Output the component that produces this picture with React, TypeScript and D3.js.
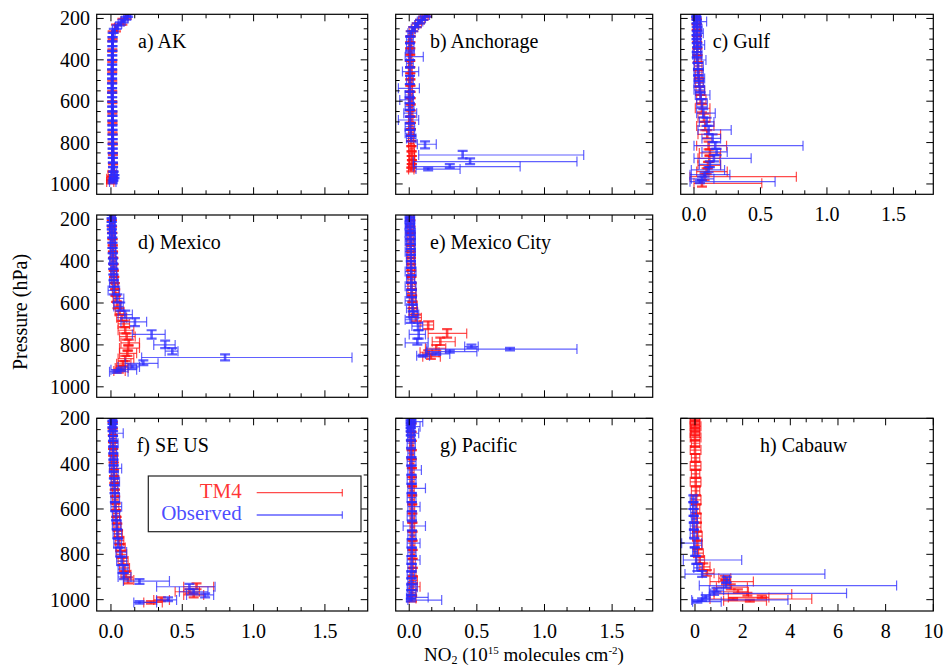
import React from 'react'
import * as d3 from 'd3'

// each point: [pressure hPa, NO2 value, error low, error high]
type Pt = [number, number, number, number]

const akObs: Pt[] = [
  [186, 0.12, 0.1, 0.14], [199, 0.105, 0.09, 0.12], [212, 0.087, 0.07, 0.1], [227, 0.063, 0.05, 0.075],
  [241, 0.04, 0.03, 0.05], [259, 0.02, 0.01, 0.03], [280, 0.012, 0.005, 0.02], [300, 0.01, 0.005, 0.016],
  [322, 0.01, 0.005, 0.016], [345, 0.01, 0.005, 0.016], [368, 0.009, 0.004, 0.015], [390, 0.009, 0.004, 0.015],
  [412, 0.009, 0.004, 0.015], [435, 0.008, 0.003, 0.014], [458, 0.008, 0.003, 0.014], [480, 0.008, 0.003, 0.014],
  [502, 0.008, 0.003, 0.014], [525, 0.008, 0.003, 0.014], [548, 0.008, 0.003, 0.014], [570, 0.008, 0.003, 0.014],
  [592, 0.009, 0.004, 0.015], [615, 0.009, 0.004, 0.015], [638, 0.009, 0.004, 0.015], [660, 0.01, 0.005, 0.016],
  [682, 0.01, 0.005, 0.016], [705, 0.01, 0.005, 0.016], [728, 0.01, 0.005, 0.016], [750, 0.011, 0.005, 0.017],
  [772, 0.011, 0.005, 0.017], [795, 0.012, 0.006, 0.018], [818, 0.012, 0.006, 0.018], [840, 0.012, 0.006, 0.018],
  [862, 0.013, 0.006, 0.02], [885, 0.013, 0.006, 0.02], [908, 0.014, 0.006, 0.022], [930, 0.015, 0.005, 0.025],
  [950, 0.02, 0.0, 0.04], [965, 0.025, 0.0, 0.045], [978, 0.018, -0.01, 0.04], [990, 0.012, -0.01, 0.035],
]
const akTm4: Pt[] = [
  [190, 0.11, 0.1, 0.12], [215, 0.08, 0.07, 0.09], [245, 0.035, 0.025, 0.045], [280, 0.012, 0.005, 0.02],
  [330, 0.01, 0.005, 0.015], [380, 0.009, 0.004, 0.014], [430, 0.009, 0.004, 0.014], [480, 0.009, 0.004, 0.014],
  [530, 0.009, 0.004, 0.014], [580, 0.009, 0.004, 0.014], [630, 0.01, 0.005, 0.015], [680, 0.01, 0.005, 0.015],
  [730, 0.011, 0.005, 0.016], [780, 0.012, 0.006, 0.018], [830, 0.013, 0.006, 0.02], [880, 0.014, 0.006, 0.022],
  [925, 0.015, 0.005, 0.025], [955, 0.01, -0.02, 0.03], [975, 0.005, -0.03, 0.025], [990, 0.0, -0.03, 0.02],
]

const anchObs: Pt[] = [
  [183, 0.13, 0.11, 0.15], [199, 0.104, 0.085, 0.12], [215, 0.08, 0.06, 0.1], [232, 0.055, 0.04, 0.07],
  [252, 0.03, 0.015, 0.045], [272, 0.011, -0.01, 0.03], [304, 0.006, -0.02, 0.03], [336, 0.006, -0.02, 0.035],
  [385, 0.006, -0.03, 0.104], [417, 0.006, -0.02, 0.03], [457, 0.006, -0.05, 0.07], [497, 0.006, -0.02, 0.03],
  [538, 0.004, -0.08, 0.075], [570, 0.004, -0.03, 0.03], [594, 0.004, -0.07, 0.03], [626, 0.004, -0.03, 0.035],
  [658, 0.005, -0.04, 0.055], [691, 0.005, -0.08, 0.07], [723, 0.006, -0.03, 0.04], [755, 0.01, -0.03, 0.04],
  [780, 0.015, -0.02, 0.05], [808, 0.117, 0.06, 0.2], [860, 0.395, 0.07, 1.29], [892, 0.45, 0.03, 1.24],
  [916, 0.3, 0.03, 0.82], [928, 0.14, 0.05, 0.376],
]
const anchTm4: Pt[] = [
  [183, 0.13, 0.12, 0.14], [199, 0.105, 0.095, 0.115], [215, 0.08, 0.07, 0.09], [232, 0.056, 0.046, 0.066],
  [252, 0.03, 0.02, 0.04], [272, 0.012, 0.0, 0.025], [300, 0.008, -0.005, 0.02], [330, 0.008, -0.005, 0.02],
  [360, 0.007, -0.006, 0.02], [390, 0.007, -0.006, 0.02], [420, 0.007, -0.006, 0.02], [450, 0.008, -0.006, 0.022],
  [480, 0.008, -0.006, 0.022], [510, 0.008, -0.006, 0.022], [540, 0.009, -0.006, 0.024], [570, 0.009, -0.006, 0.024],
  [600, 0.01, -0.006, 0.026], [630, 0.01, -0.006, 0.026], [660, 0.011, -0.005, 0.027], [690, 0.011, -0.005, 0.027],
  [720, 0.012, -0.005, 0.028], [750, 0.013, -0.005, 0.03], [780, 0.014, -0.005, 0.032], [805, 0.015, -0.005, 0.035],
  [830, 0.017, -0.003, 0.037], [855, 0.018, -0.002, 0.038], [875, 0.02, 0.0, 0.04], [895, 0.02, 0.0, 0.04],
  [912, 0.018, -0.002, 0.038], [930, 0.015, -0.005, 0.035],
]

const gulfObs: Pt[] = [
  [188, 0.015, -0.01, 0.04], [200, 0.02, 0.0, 0.05], [215, 0.02, 0.0, 0.095], [232, 0.02, 0.0, 0.05],
  [250, 0.025, 0.0, 0.06], [272, 0.02, -0.005, 0.07], [290, 0.02, 0.0, 0.05], [310, 0.02, 0.0, 0.05],
  [328, 0.025, 0.0, 0.08], [350, 0.025, 0.0, 0.05], [375, 0.02, -0.01, 0.06], [401, 0.025, 0.0, 0.09],
  [430, 0.03, 0.0, 0.07], [460, 0.03, 0.0, 0.07], [490, 0.035, 0.005, 0.08], [513, 0.04, 0.0, 0.07],
  [545, 0.045, 0.0, 0.08], [570, 0.05, 0.01, 0.12], [610, 0.06, 0.02, 0.1], [658, 0.07, 0.02, 0.16],
  [700, 0.095, 0.04, 0.15], [739, 0.11, 0.03, 0.28], [780, 0.14, 0.06, 0.2], [815, 0.16, 0.0, 0.82],
  [845, 0.17, 0.06, 0.25], [876, 0.15, 0.0, 0.43], [905, 0.12, 0.04, 0.2], [932, 0.11, -0.02, 0.23],
  [955, 0.08, -0.03, 0.27], [975, 0.06, -0.02, 0.15], [989, 0.045, -0.03, 0.61],
]
const gulfTm4: Pt[] = [
  [190, 0.02, 0.0, 0.04], [215, 0.02, 0.0, 0.04], [240, 0.02, 0.0, 0.045], [270, 0.022, 0.0, 0.045],
  [300, 0.022, 0.0, 0.05], [330, 0.025, 0.0, 0.05], [360, 0.025, 0.0, 0.05], [395, 0.027, 0.005, 0.055],
  [430, 0.03, 0.005, 0.06], [470, 0.035, 0.01, 0.06], [510, 0.04, 0.01, 0.07], [550, 0.045, 0.015, 0.08],
  [590, 0.05, 0.02, 0.09], [634, 0.06, 0.01, 0.12], [680, 0.075, 0.03, 0.12], [720, 0.085, 0.02, 0.15],
  [760, 0.1, 0.03, 0.2], [815, 0.11, 0.02, 0.245], [850, 0.12, 0.04, 0.2], [876, 0.115, 0.03, 0.195],
  [910, 0.105, 0.03, 0.2], [940, 0.095, 0.02, 0.25], [965, 0.08, -0.03, 0.77], [997, 0.06, 0.0, 0.51],
]

const mexObs: Pt[] = [
  [188, 0.005, -0.01, 0.03], [205, 0.005, -0.01, 0.03], [222, 0.005, -0.01, 0.025], [240, 0.005, -0.01, 0.025],
  [258, 0.007, -0.01, 0.03], [276, 0.008, -0.01, 0.03], [300, 0.01, -0.005, 0.03], [325, 0.01, -0.005, 0.03],
  [350, 0.012, -0.005, 0.035], [375, 0.013, -0.005, 0.035], [400, 0.015, -0.01, 0.04], [425, 0.016, 0.0, 0.035],
  [450, 0.017, 0.0, 0.04], [478, 0.018, 0.0, 0.04], [505, 0.02, -0.01, 0.05], [540, 0.02, -0.02, 0.06],
  [578, 0.045, 0.02, 0.09], [617, 0.065, 0.02, 0.086], [655, 0.1, 0.05, 0.15], [690, 0.168, 0.07, 0.25],
  [750, 0.285, 0.15, 0.38], [800, 0.38, 0.3, 0.45], [830, 0.43, 0.38, 0.47], [860, 0.8, 0.215, 1.69],
  [888, 0.227, 0.1, 0.33], [905, 0.15, 0.05, 0.2], [918, 0.07, 0.0, 0.18], [928, 0.04, -0.01, 0.12],
]
const mexTm4: Pt[] = [
  [190, 0.006, -0.005, 0.02], [220, 0.006, -0.005, 0.02], [250, 0.008, -0.005, 0.02], [280, 0.01, 0.0, 0.025],
  [310, 0.012, 0.0, 0.025], [340, 0.013, 0.0, 0.03], [370, 0.015, 0.0, 0.03], [400, 0.017, 0.0, 0.035],
  [430, 0.019, 0.0, 0.04], [460, 0.021, 0.0, 0.04], [490, 0.024, 0.005, 0.045], [520, 0.028, 0.01, 0.05],
  [550, 0.03, 0.01, 0.055], [580, 0.035, 0.015, 0.06], [610, 0.045, 0.02, 0.07], [640, 0.06, 0.03, 0.09],
  [670, 0.075, 0.04, 0.11], [700, 0.09, 0.05, 0.13], [730, 0.1, 0.05, 0.16], [760, 0.11, 0.06, 0.17],
  [790, 0.125, 0.07, 0.2], [815, 0.12, 0.06, 0.2], [840, 0.115, 0.06, 0.18], [865, 0.1, 0.05, 0.16],
  [890, 0.085, 0.04, 0.14], [910, 0.07, 0.03, 0.12], [925, 0.055, 0.02, 0.1],
]

const mexCityObs: Pt[] = [
  [185, 0.005, -0.02, 0.035], [200, 0.005, -0.03, 0.04], [215, 0.006, -0.02, 0.035], [230, 0.006, -0.03, 0.04],
  [248, 0.007, -0.02, 0.035], [265, 0.008, -0.03, 0.045], [285, 0.008, -0.02, 0.04], [305, 0.01, -0.03, 0.045],
  [330, 0.01, -0.02, 0.04], [355, 0.012, -0.03, 0.045], [385, 0.012, -0.02, 0.04], [415, 0.013, -0.02, 0.045],
  [450, 0.014, -0.03, 0.05], [485, 0.015, -0.02, 0.04], [520, 0.015, -0.03, 0.05], [555, 0.017, -0.02, 0.05],
  [590, 0.02, -0.03, 0.05], [625, 0.025, -0.02, 0.06], [655, 0.03, 0.0, 0.07], [680, 0.01, -0.03, 0.06],
  [710, 0.065, 0.02, 0.1], [750, 0.07, 0.0, 0.12], [790, 0.06, -0.03, 0.14], [808, 0.46, 0.41, 0.51],
  [820, 0.745, 0.13, 1.24], [832, 0.3, 0.13, 0.5], [843, 0.2, 0.12, 0.3], [852, 0.1, 0.055, 0.15],
]
const mexCityTm4: Pt[] = [
  [190, 0.008, -0.01, 0.03], [220, 0.008, -0.01, 0.03], [250, 0.009, -0.01, 0.03], [280, 0.01, -0.01, 0.03],
  [310, 0.01, -0.01, 0.03], [340, 0.011, -0.01, 0.035], [370, 0.012, -0.01, 0.035], [400, 0.013, -0.01, 0.035],
  [430, 0.014, -0.01, 0.04], [460, 0.015, -0.01, 0.04], [490, 0.016, -0.01, 0.04], [520, 0.018, -0.01, 0.045],
  [550, 0.02, -0.01, 0.05], [580, 0.022, 0.0, 0.05], [610, 0.025, 0.0, 0.055], [640, 0.03, 0.0, 0.06],
  [670, 0.05, 0.02, 0.09], [705, 0.14, 0.08, 0.18], [745, 0.28, 0.14, 0.425], [785, 0.23, 0.17, 0.34],
  [816, 0.2, 0.12, 0.27], [835, 0.14, 0.08, 0.22], [856, 0.16, 0.1, 0.23],
]

const seObs: Pt[] = [
  [205, 0.01, -0.01, 0.04], [218, 0.012, -0.005, 0.03], [232, 0.012, -0.01, 0.035], [248, 0.01, -0.005, 0.03],
  [266, 0.015, -0.01, 0.086], [290, 0.014, -0.01, 0.04], [310, 0.015, -0.005, 0.05], [340, 0.016, -0.01, 0.04],
  [370, 0.017, -0.005, 0.045], [395, 0.018, -0.005, 0.045], [421, 0.02, -0.01, 0.075], [450, 0.02, 0.0, 0.05],
  [480, 0.022, 0.0, 0.06], [510, 0.025, 0.0, 0.05], [550, 0.027, 0.0, 0.06], [590, 0.03, 0.0, 0.075],
  [630, 0.035, 0.01, 0.06], [670, 0.04, 0.01, 0.07], [710, 0.045, 0.015, 0.075], [751, 0.05, 0.02, 0.075],
  [790, 0.065, 0.035, 0.11], [830, 0.075, 0.04, 0.11], [865, 0.085, 0.05, 0.12], [900, 0.09, 0.05, 0.14],
  [918, 0.2, 0.087, 0.41], [943, 0.55, 0.32, 0.73], [965, 0.58, 0.48, 0.68], [979, 0.66, 0.53, 0.72],
  [1001, 0.4, 0.32, 0.46], [1012, 0.2, 0.16, 0.32],
]
const seTm4: Pt[] = [
  [205, 0.012, 0.0, 0.025], [230, 0.012, 0.0, 0.025], [260, 0.013, 0.0, 0.03], [290, 0.014, 0.0, 0.03],
  [320, 0.015, 0.0, 0.03], [350, 0.016, 0.0, 0.035], [380, 0.018, 0.005, 0.035], [410, 0.02, 0.005, 0.04],
  [440, 0.022, 0.005, 0.04], [470, 0.024, 0.005, 0.045], [500, 0.026, 0.01, 0.045], [530, 0.028, 0.01, 0.05],
  [560, 0.03, 0.01, 0.05], [590, 0.033, 0.015, 0.055], [620, 0.036, 0.015, 0.06], [650, 0.04, 0.02, 0.065],
  [680, 0.045, 0.02, 0.07], [710, 0.05, 0.025, 0.08], [740, 0.058, 0.03, 0.09], [770, 0.065, 0.035, 0.1],
  [800, 0.075, 0.04, 0.11], [830, 0.085, 0.05, 0.12], [860, 0.095, 0.06, 0.13], [890, 0.105, 0.07, 0.14],
  [913, 0.12, 0.09, 0.16], [943, 0.6, 0.51, 0.72], [965, 0.55, 0.45, 0.62], [979, 0.58, 0.51, 0.65],
  [1001, 0.35, 0.3, 0.41], [1012, 0.28, 0.23, 0.36],
]

const pacObs: Pt[] = [
  [205, 0.01, -0.01, 0.05], [215, 0.012, -0.01, 0.1], [226, 0.01, -0.01, 0.04], [237, 0.012, -0.01, 0.08],
  [250, 0.01, -0.015, 0.035], [266, 0.012, -0.01, 0.07], [285, 0.012, -0.01, 0.04], [310, 0.013, -0.015, 0.045],
  [354, 0.014, -0.01, 0.04], [390, 0.015, -0.015, 0.05], [428, 0.016, -0.01, 0.09], [470, 0.017, -0.015, 0.05],
  [509, 0.018, -0.01, 0.12], [550, 0.018, -0.015, 0.05], [590, 0.02, -0.01, 0.08], [630, 0.02, -0.015, 0.05],
  [675, 0.02, -0.045, 0.12], [715, 0.02, -0.01, 0.05], [751, 0.019, -0.015, 0.08], [790, 0.018, -0.01, 0.05],
  [825, 0.018, -0.015, 0.08], [860, 0.017, -0.01, 0.05], [891, 0.016, -0.015, 0.04], [920, 0.016, -0.01, 0.05],
  [945, 0.015, -0.015, 0.06], [970, 0.015, -0.01, 0.05], [990, 0.014, -0.02, 0.14], [1002, 0.012, -0.01, 0.24],
]
const pacTm4: Pt[] = [
  [205, 0.015, 0.0, 0.03], [240, 0.016, 0.0, 0.03], [280, 0.017, 0.0, 0.032], [320, 0.018, 0.002, 0.034],
  [360, 0.018, 0.002, 0.034], [400, 0.019, 0.003, 0.035], [440, 0.02, 0.004, 0.036], [480, 0.02, 0.004, 0.036],
  [520, 0.021, 0.005, 0.037], [560, 0.022, 0.005, 0.038], [600, 0.022, 0.005, 0.04], [640, 0.023, 0.006, 0.04],
  [680, 0.023, 0.006, 0.04], [720, 0.024, 0.006, 0.042], [760, 0.024, 0.006, 0.042], [800, 0.024, 0.006, 0.042],
  [840, 0.025, 0.006, 0.045], [880, 0.025, 0.005, 0.05], [915, 0.025, 0.0, 0.06], [943, 0.025, 0.0, 0.08],
  [970, 0.022, 0.0, 0.05], [995, 0.02, 0.0, 0.05],
]

const cabObs: Pt[] = [
  [555, -0.07, -0.2, 0.05], [585, -0.065, -0.2, 0.05], [615, -0.06, -0.18, 0.06], [645, -0.05, -0.15, 0.1],
  [675, -0.05, -0.2, 0.08], [707, -0.04, -0.2, 0.1], [751, -0.02, -0.56, 0.28], [788, 0.0, -0.1, 0.1],
  [825, 0.05, -0.49, 1.96], [860, 0.1, -0.05, 0.3], [887, 0.3, -0.42, 5.45], [912, 1.33, 1.2, 1.45],
  [938, 1.3, 0.18, 8.46], [958, 0.9, 0.6, 1.2], [972, 0.8, 0.63, 6.36], [987, 0.45, 0.3, 0.6],
  [1001, 0.3, -0.14, 3.9], [1009, 0.1, -0.1, 1.1],
]
const cabTm4: Pt[] = [
  [205, 0.0, -0.2, 0.2], [220, 0.0, -0.2, 0.2], [235, 0.0, -0.2, 0.25], [250, 0.0, -0.15, 0.2],
  [265, 0.0, -0.2, 0.2], [285, 0.0, -0.2, 0.25], [310, 0.0, -0.15, 0.2], [340, 0.0, -0.2, 0.25],
  [375, 0.02, -0.15, 0.2], [410, 0.02, -0.2, 0.25], [445, 0.03, -0.15, 0.2], [480, 0.03, -0.2, 0.25],
  [520, 0.04, -0.15, 0.2], [560, 0.05, -0.15, 0.25], [600, 0.06, -0.1, 0.2], [640, 0.07, -0.1, 0.25],
  [680, 0.08, -0.1, 0.25], [720, 0.1, -0.1, 0.3], [760, 0.1, -0.05, 0.3], [795, 0.12, -0.05, 0.35],
  [825, 0.2, 0.05, 0.4], [855, 0.35, 0.2, 0.63], [884, 0.5, 0.3, 0.8], [905, 1.26, 1.0, 1.5],
  [920, 1.3, 0.63, 2.45], [945, 1.5, 0.9, 2.2], [965, 1.8, 0.8, 2.24], [975, 2.2, 0.8, 4.06],
  [990, 2.8, 1.4, 3.1], [997, 1.6, 0.63, 4.9], [1005, 2.3, 1.2, 3.0],
]

const panelNames = ['a) AK', 'b) Anchorage', 'c) Gulf', 'd) Mexico', 'e) Mexico City', 'f) SE US', 'g) Pacific', 'h) Cabauw']
const pressureTicks = [200, 400, 600, 800, 1000]
const no2Ticks = [0, 0.5, 1.0, 1.5]
const cabauwTicks = [0, 2, 4, 6, 8, 10]
const legendNames = ['TM4', 'Observed']

const FONT = '"Liberation Serif", "DejaVu Serif", Times, serif'
const RED = '#ff1010'
const BLUE = '#2c2cff'

const cols = [
  { l: 96.7, r: 367.7 },
  { l: 395.7, r: 652.7 },
  { l: 680.7, r: 933.3 },
]
const rows = [
  { t: 14.3, b: 194.3, dom: [180, 1050] },
  { t: 215, b: 397.3, dom: [180, 1050] },
  { t: 418.3, b: 611, dom: [200, 1050] },
]

interface PanelDef {
  name: string
  col: number
  row: number
  obs: Pt[]
  tm4: Pt[]
  labelX: number
  showX: boolean
  showY: boolean
  wide?: boolean
}

const panels: PanelDef[] = [
  { name: panelNames[0], col: 0, row: 0, obs: akObs, tm4: akTm4, labelX: 138, showX: false, showY: true },
  { name: panelNames[1], col: 1, row: 0, obs: anchObs, tm4: anchTm4, labelX: 430, showX: false, showY: false },
  { name: panelNames[2], col: 2, row: 0, obs: gulfObs, tm4: gulfTm4, labelX: 712.7, showX: true, showY: false },
  { name: panelNames[3], col: 0, row: 1, obs: mexObs, tm4: mexTm4, labelX: 138, showX: false, showY: true },
  { name: panelNames[4], col: 1, row: 1, obs: mexCityObs, tm4: mexCityTm4, labelX: 430, showX: false, showY: false },
  { name: panelNames[5], col: 0, row: 2, obs: seObs, tm4: seTm4, labelX: 136.7, showX: true, showY: true },
  { name: panelNames[6], col: 1, row: 2, obs: pacObs, tm4: pacTm4, labelX: 440, showX: true, showY: false },
  { name: panelNames[7], col: 2, row: 2, obs: cabObs, tm4: cabTm4, labelX: 760, showX: true, showY: false, wide: true },
]

const textStyle = { fontFamily: FONT }

function Series({ data, x, y, color }: { data: Pt[]; x: d3.ScaleLinear<number, number>; y: d3.ScaleLinear<number, number>; color: string }) {
  const pts = [...data].sort((a, b) => a[0] - b[0])
  const els: React.ReactNode[] = []
  pts.forEach((d, i) => {
    const [p, v, lo, hi] = d
    const prev = i > 0 ? pts[i - 1][0] : null
    const next = i < pts.length - 1 ? pts[i + 1][0] : null
    const up = Math.min(prev != null ? (p - prev) / 2 : next != null ? (next - p) / 2 : 10, 20)
    const dn = Math.min(next != null ? (next - p) / 2 : up, 20)
    const xv = x(v)
    const y0 = y(p - up)
    const y1 = y(p + dn)
    const yp = y(p)
    els.push(
      <g key={i}>
        <line x1={xv} x2={xv} y1={y0} y2={y1} strokeWidth={2.6} />
        <line x1={xv - 5} x2={xv + 5} y1={y0} y2={y0} strokeWidth={2.2} />
        <line x1={xv - 5} x2={xv + 5} y1={y1} y2={y1} strokeWidth={2.2} />
        <line x1={x(lo)} x2={x(hi)} y1={yp} y2={yp} strokeWidth={1.2} />
        <line x1={x(lo)} x2={x(lo)} y1={yp - 5} y2={yp + 5} strokeWidth={1.2} />
        <line x1={x(hi)} x2={x(hi)} y1={yp - 5} y2={yp + 5} strokeWidth={1.2} />
      </g>
    )
  })
  return <g stroke={color} strokeOpacity={0.75} fill="none">{els}</g>
}

function Panel({ def, idx }: { def: PanelDef; idx: number }) {
  const c = cols[def.col]
  const r = rows[def.row]
  const x = d3.scaleLinear().domain(def.wide ? [-0.6, 10] : [-0.1, 1.8]).range([c.l, c.r])
  const y = d3.scaleLinear().domain(r.dom).range([r.t, r.b])
  const majors = def.wide ? cabauwTicks : no2Ticks
  const step = def.wide ? 2 / 3 : 0.5 / 3
  const xMinor = d3.range(0, 11).map(k => k * step).filter(v => !majors.some(m => Math.abs(m - v) < 1e-6) && x(v) < c.r - 1)
  const yMinor = d3.range(200, 1050, 50).filter(p => !pressureTicks.includes(p))
  const clipId = `clip${idx}`
  const fmt = (v: number) => (def.wide ? String(v) : v.toFixed(1))
  return (
    <g>
      <defs>
        <clipPath id={clipId}>
          <rect x={c.l} y={r.t} width={c.r - c.l} height={r.b - r.t} />
        </clipPath>
      </defs>
      <g clipPath={`url(#${clipId})`}>
        <Series data={def.tm4} x={x} y={y} color={RED} />
        <Series data={def.obs} x={x} y={y} color={BLUE} />
      </g>
      <rect x={c.l} y={r.t} width={c.r - c.l} height={r.b - r.t} fill="none" stroke="#000" strokeWidth={1.2} />
      <g stroke="#000" strokeWidth={1}>
        {majors.map(m => (
          <g key={'xm' + m}>
            <line x1={x(m)} x2={x(m)} y1={r.b} y2={r.b - 7} />
            <line x1={x(m)} x2={x(m)} y1={r.t} y2={r.t + 7} />
          </g>
        ))}
        {xMinor.map(m => (
          <g key={'xn' + m}>
            <line x1={x(m)} x2={x(m)} y1={r.b} y2={r.b - 4} />
            <line x1={x(m)} x2={x(m)} y1={r.t} y2={r.t + 4} />
          </g>
        ))}
        {pressureTicks.map(p => (
          <g key={'ym' + p}>
            <line x1={c.l} x2={c.l + 7} y1={y(p)} y2={y(p)} />
            <line x1={c.r} x2={c.r - 7} y1={y(p)} y2={y(p)} />
          </g>
        ))}
        {yMinor.map(p => (
          <g key={'yn' + p}>
            <line x1={c.l} x2={c.l + 4} y1={y(p)} y2={y(p)} />
            <line x1={c.r} x2={c.r - 4} y1={y(p)} y2={y(p)} />
          </g>
        ))}
      </g>
      {def.showX &&
        majors.map(m => (
          <text key={'xl' + m} x={x(m)} y={r.b + 27} textAnchor="middle" fontSize={20} style={textStyle} fill="#000">
            {fmt(m)}
          </text>
        ))}
      {def.showY &&
        pressureTicks.map(p => (
          <text key={'yl' + p} x={90} y={y(p)} dy="0.35em" textAnchor="end" fontSize={20} style={textStyle} fill="#000">
            {p}
          </text>
        ))}
      <text x={def.labelX} y={r.t + 34} fontSize={20} style={textStyle} fill="#000">
        {def.name}
      </text>
    </g>
  )
}

export default function App() {
  const legendColors = [RED, BLUE]
  return (
    <svg width={945} height={668} style={{ position: 'absolute', left: 0, top: 0, background: '#fff' }}>
      <rect width={945} height={668} fill="#fff" />
      {panels.map((p, i) => (
        <Panel key={p.name} def={p} idx={i} />
      ))}
      <g>
        <rect x={148.3} y={476} width={212.7} height={55.7} fill="#fff" stroke="#222" strokeWidth={1.2} />
        {legendNames.map((n, i) => (
          <g key={n}>
            <text x={241.7} y={498 + i * 22} textAnchor="end" fontSize={21} style={textStyle} fill={legendColors[i]} fillOpacity={0.85}>
              {n}
            </text>
            <line x1={256.7} x2={342.3} y1={492.7 + i * 22.3} y2={492.7 + i * 22.3} stroke={legendColors[i]} strokeOpacity={0.75} strokeWidth={1.3} />
            <line x1={342.3} x2={342.3} y1={489 + i * 22.3} y2={496.4 + i * 22.3} stroke={legendColors[i]} strokeOpacity={0.75} strokeWidth={1.2} />
          </g>
        ))}
      </g>
      <text transform="translate(27,312) rotate(-90)" textAnchor="middle" fontSize={20} style={textStyle} fill="#000">
        Pressure (hPa)
      </text>
      <text x={524} y={661} textAnchor="middle" fontSize={19} style={textStyle} fill="#000">
        NO
        <tspan fontSize={12} dy={3}>2</tspan>
        <tspan dy={-3}> (10</tspan>
        <tspan fontSize={11} dy={-7}>15</tspan>
        <tspan dy={7}> molecules cm</tspan>
        <tspan fontSize={11} dy={-7}>-2</tspan>
        <tspan dy={7}>)</tspan>
      </text>
    </svg>
  )
}
